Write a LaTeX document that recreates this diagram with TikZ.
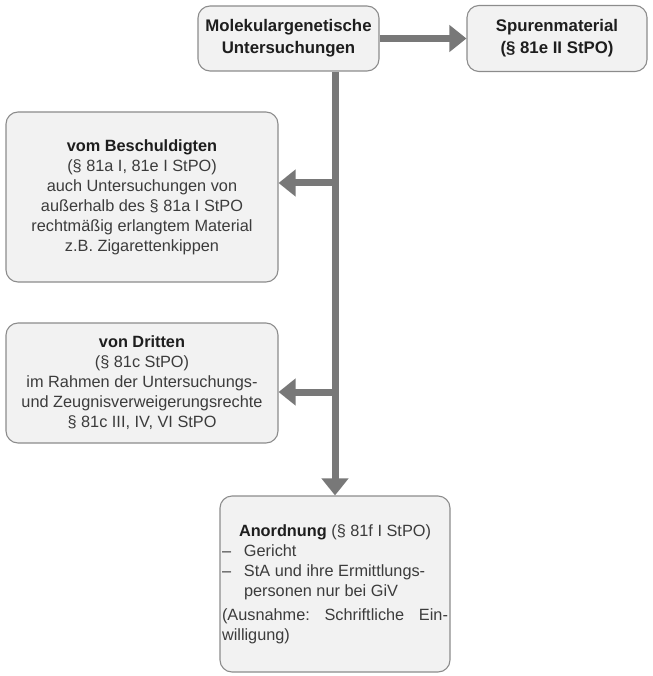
\documentclass[tikz,border=0pt]{standalone}
\usepackage{fontspec}
\setmainfont{Liberation Sans}
\usetikzlibrary{arrows.meta}
\definecolor{boxfill}{HTML}{F2F2F2}
\definecolor{boxline}{HTML}{8C8C8C}
\definecolor{flow}{HTML}{787878}
\definecolor{txt}{HTML}{3C3C3C}
\definecolor{txtb}{HTML}{1E1E1E}

\begin{document}
\begin{tikzpicture}[x=1pt,y=-1pt,
  box/.style={draw=boxline, line width=1.1pt, fill=boxfill, rounded corners=12pt,
    inner sep=2pt, align=center, text=txt, font=\fontsize{16.3}{20}\selectfont},
  headbox/.style={box, text=txtb, font=\fontsize{16.8}{22}\selectfont\bfseries},
  flowarrow/.style={draw=flow, line width=7pt, -{Triangle[length=17pt,width=26pt]}}]
\useasboundingbox (0,0) rectangle (652,676);

% top row
\node[headbox, minimum width=181pt, minimum height=65pt] (mol) at (288.5,38.5)
  {Molekulargenetische\\Untersuchungen};
\node[headbox, minimum width=180pt, minimum height=66pt] (spur) at (557,38.5)
  {Spurenmaterial\\(§ 81e II StPO)};

% left column
\node[box, minimum width=272pt, minimum height=170pt] (besch) at (142,197)
  {\textcolor{txtb}{\textbf{vom Beschuldigten}}\\
   (§ 81a I, 81e I StPO)\\
   auch Untersuchungen von\\
   außerhalb des § 81a I StPO\\
   rechtmäßig erlangtem Material\\
   z.B. Zigarettenkippen};
\node[box, minimum width=272pt, minimum height=120pt] (dritt) at (142,383)
  {\textcolor{txtb}{\textbf{von Dritten}}\\
   (§ 81c StPO)\\
   im Rahmen der Untersuchungs-\\
   und Zeugnisverweigerungsrechte\\
   § 81c III, IV, VI StPO};

% bottom box
\node[box, align=justify, text width=226pt, minimum height=176pt] (anord) at (335,584)
  {\setlength\parindent{0pt}%
   {\centering\textcolor{txtb}{\textbf{Anordnung}} (§ 81f I StPO)\par}
   \makebox[22pt][l]{–}Gericht\par
   \makebox[22pt][l]{–}StA und ihre Ermittlungs-\par
   \hspace*{22pt}personen nur bei GiV\par
   \vspace{4pt}
   (Ausnahme:\hfill Schriftliche\hfill Ein-\linebreak
   willigung)\par};

% connectors
\coordinate (trunk) at (335,0);
\coordinate (b1) at (335,183);
\coordinate (b2) at (335,392);
\draw[flowarrow] (mol.east) -- (spur.west);
\draw[flowarrow] (mol.south -| trunk) -- (anord.north -| trunk);
\draw[flowarrow] (b1) -- (b1 -| besch.east);
\draw[flowarrow] (b2) -- (b2 -| dritt.east);
\end{tikzpicture}
\end{document}
